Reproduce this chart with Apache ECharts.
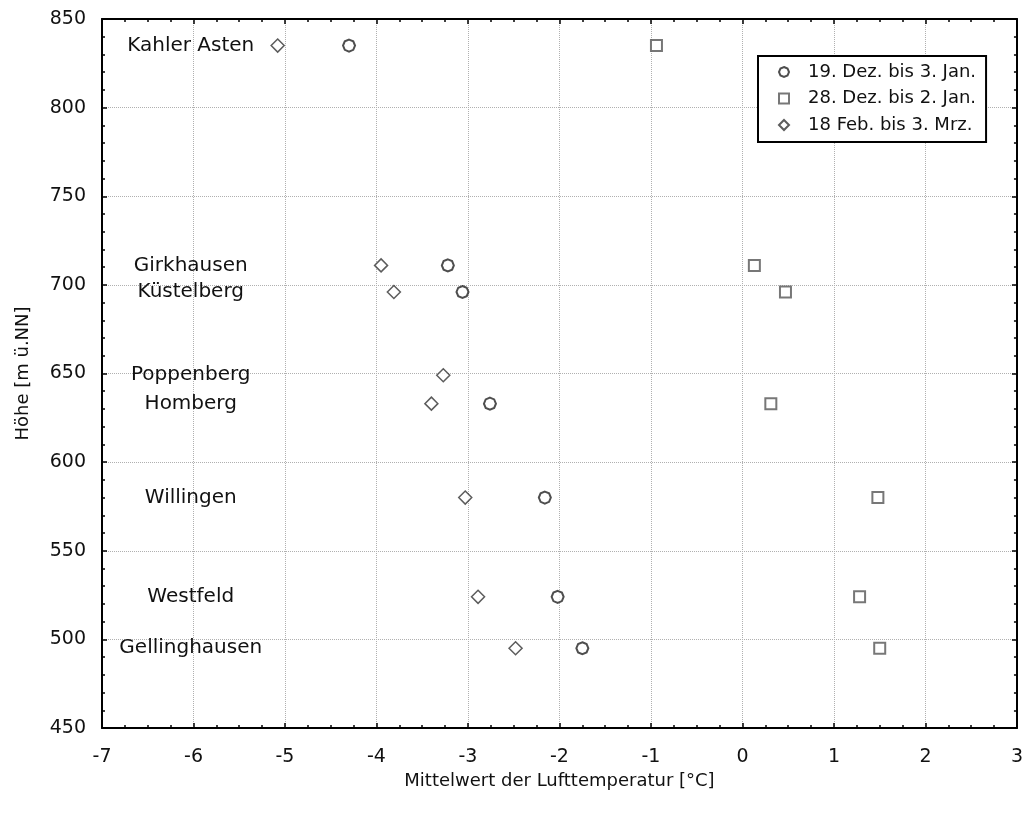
<!DOCTYPE html>
<html>
<head>
<meta charset="utf-8">
<script src="https://cdn.jsdelivr.net/npm/echarts@6/dist/echarts.min.js"></script>
<style>
  html, body { margin: 0; padding: 0; background: #fff; }
  #chart { width: 1026px; height: 816px; }
</style>
</head>
<body>
<div id="chart"></div>
<script>
// Stations and their elevation (m ü. NN)
const stations = ['Kahler Asten', 'Girkhausen', 'Küstelberg', 'Poppenberg', 'Homberg', 'Willingen', 'Westfeld', 'Gellinghausen'];
const heights = [835, 711, 696, 649, 633, 580, 524, 495];

// Mean air temperature (°C) per period; null = no measurement
const periodNames = ['19. Dez. bis 3. Jan.', '28. Dez. bis 2. Jan.', '18 Feb. bis 3. Mrz.'];
const dez19Jan3 = [-4.30, -3.22, -3.06, null, -2.76, -2.16, -2.02, -1.75];
const dez28Jan2 = [-0.94, 0.13, 0.47, null, 0.31, 1.48, 1.28, 1.50];
const feb18Mrz3 = [-5.08, -3.95, -3.81, -3.27, -3.40, -3.03, -2.89, -2.48];

// Axis ticks
const xTicks = { min: -7, max: 3, step: 1 };
const yTicks = { min: 450, max: 850, step: 50 };

// Horizontal anchor (in °C) of the station name column
const LABEL_X = -6.03;

const FONT = 'DejaVu Sans';
const INK = '#111';

function pairs(values) {
  const out = [];
  values.forEach((v, i) => { if (v !== null) out.push([v, heights[i]]); });
  return out;
}

const octagon = 'path://M0,-10L7.07,-7.07L10,0L7.07,7.07L0,10L-7.07,7.07L-10,0L-7.07,-7.07Z';

const frameAxis = {
  axisLine: { show: true, onZero: false, lineStyle: { color: '#000', width: 2 } },
  axisTick: { show: true, inside: true, length: 5, lineStyle: { color: '#000', width: 1.5 } },
  minorTick: { show: true, length: 3, lineStyle: { color: '#000', width: 1.5 } }
};

const chart = echarts.init(document.getElementById('chart'), null, { renderer: 'canvas' });

chart.setOption({
  animation: false,
  backgroundColor: '#fff',
  grid: { left: 102, right: 9, top: 19, bottom: 88, containLabel: false },
  xAxis: [
    Object.assign({
      type: 'value', position: 'bottom',
      min: xTicks.min, max: xTicks.max, interval: xTicks.step,
      name: 'Mittelwert der Lufttemperatur [°C]',
      nameLocation: 'middle', nameGap: 35,
      nameTextStyle: { fontFamily: FONT, fontSize: 18, color: INK },
      axisLabel: { fontFamily: FONT, fontSize: 19, color: INK, margin: 20 },
      splitLine: { show: true, lineStyle: { color: '#b0b0b0', type: 'dotted', width: 1 } }
    }, frameAxis, { minorTick: Object.assign({ splitNumber: 4 }, frameAxis.minorTick) }),
    Object.assign({
      type: 'value', position: 'top',
      min: xTicks.min, max: xTicks.max, interval: xTicks.step,
      axisLabel: { show: false },
      splitLine: { show: false }
    }, frameAxis, { minorTick: Object.assign({ splitNumber: 4 }, frameAxis.minorTick) })
  ],
  yAxis: [
    Object.assign({
      type: 'value', position: 'left',
      min: yTicks.min, max: yTicks.max, interval: yTicks.step,
      name: 'Höhe [m ü.NN]',
      nameLocation: 'middle', nameGap: 70, nameRotate: 90,
      nameTextStyle: { fontFamily: FONT, fontSize: 18, color: INK },
      axisLabel: { fontFamily: FONT, fontSize: 19, color: INK, margin: 16 },
      splitLine: { show: true, lineStyle: { color: '#b0b0b0', type: 'dotted', width: 1 } }
    }, frameAxis, { minorTick: Object.assign({ splitNumber: 5 }, frameAxis.minorTick) }),
    Object.assign({
      type: 'value', position: 'right',
      min: yTicks.min, max: yTicks.max, interval: yTicks.step,
      axisLabel: { show: false },
      splitLine: { show: false }
    }, frameAxis, { minorTick: Object.assign({ splitNumber: 5 }, frameAxis.minorTick) })
  ],
  legend: {
    orient: 'vertical',
    left: 758, top: 56,
    padding: [7, 10, 8, 20],
    itemWidth: 10, itemHeight: 10, itemGap: 8.5,
    borderColor: '#000', borderWidth: 2,
    backgroundColor: '#fff',
    selectedMode: false,
    formatter: name => '{gap|}' + name,
    textStyle: {
      fontFamily: FONT, fontSize: 18, color: INK, lineHeight: 18,
      rich: { gap: { width: 14 } }
    },
    data: periodNames
  },
  series: [
    {
      name: periodNames[0], type: 'scatter',
      symbol: octagon, symbolSize: 12,
      itemStyle: { color: '#fff', borderColor: '#222', borderWidth: 2 },
      data: pairs(dez19Jan3), z: 3
    },
    {
      name: periodNames[1], type: 'scatter',
      symbol: 'rect', symbolSize: 11,
      itemStyle: { color: '#fff', borderColor: '#555', borderWidth: 2 },
      data: pairs(dez28Jan2), z: 3
    },
    {
      name: periodNames[2], type: 'scatter',
      symbol: 'diamond', symbolSize: 13,
      itemStyle: { color: '#fff', borderColor: '#333', borderWidth: 1.5 },
      data: pairs(feb18Mrz3), z: 3
    },
    {
      name: 'Stationen', type: 'scatter',
      symbolSize: 1,
      silent: true,
      itemStyle: { color: 'rgba(0,0,0,0)' },
      label: {
        show: true, position: 'inside',
        fontFamily: FONT, fontSize: 20, color: INK,
        textBorderWidth: 0, opacity: 1,
        formatter: p => p.data[2]
      },
      data: stations.map((s, i) => [LABEL_X, heights[i], s]),
      z: 4
    }
  ]
});
</script>
</body>
</html>
